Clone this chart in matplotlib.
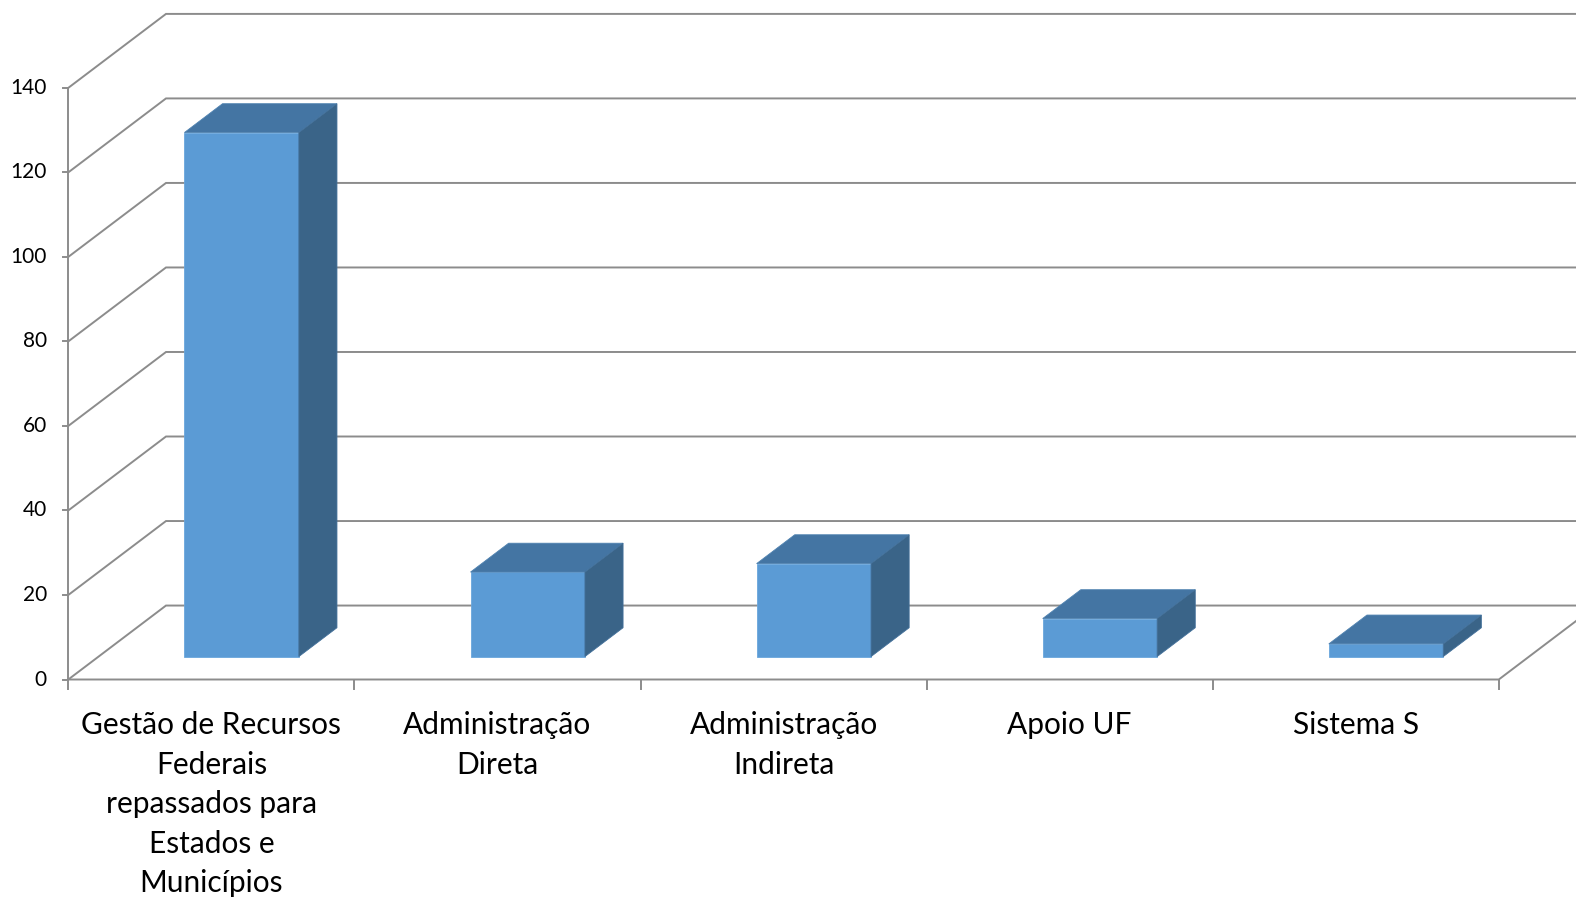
import matplotlib as mpl
mpl.use('Agg')
import matplotlib.pyplot as plt

categories = ['Gestão de Recursos\nFederais\nrepassados para\nEstados e\nMunicípios',
              'Administração\nDireta',
              'Administração\nIndireta',
              'Apoio UF',
              'Sistema S']
values = [124, 20, 22, 9, 3]
y_ticks = [0, 20, 40, 60, 80, 100, 120, 140]

plt.rcParams['font.family'] = ['Lato', 'DejaVu Sans']

# oblique "3D" projection: depth offset in data units
DX = 0.3415   # categories
DY = 17.5     # value units
FRONT = 0.31  # depth fraction of bar front face
DEPTH = 0.39  # depth fraction taken by the bar
BAR_W = 0.4

grid_color = '#8c8c8c'
face_front = '#5b9bd5'
face_top = '#4475a3'
face_side = '#3a6488'

fig = plt.figure(figsize=(15.76, 8.97), dpi=100)
ax = fig.add_axes([0, 0, 1, 1])
ax.set_xlim(-68.3 / 286.1, (1576 - 68.3) / 286.1)
ax.set_ylim((679.5 - 897) / 4.226, 679.5 / 4.226)
ax.axis('off')

n = len(categories)
ymax = y_ticks[-1]

# walls / gridlines
for v in y_ticks:
    ax.plot([0, DX, n + DX + 1], [v, v + DY, v + DY], color=grid_color, lw=1.4,
            solid_joinstyle='miter', zorder=1)
    ax.plot([-0.02, 0], [v, v], color=grid_color, lw=1.4, zorder=1)
    ax.text(-0.075, v, str(v), ha='right', va='center', fontsize=15, color='black')
ax.plot([0, 0], [0, ymax], color=grid_color, lw=1.4, zorder=1)
ax.plot([0, n, n + DX], [0, 0, DY], color=grid_color, lw=1.4, zorder=1)
for i in range(n + 1):
    ax.plot([i, i], [0, -2.2], color=grid_color, lw=1.4, zorder=1)

# bars
for i, v in enumerate(values):
    xl = i + 0.5 - BAR_W / 2 + FRONT * DX
    xr = xl + BAR_W
    y0 = FRONT * DY
    y1 = y0 + v
    dx, dy = DEPTH * DX, DEPTH * DY
    ax.bar(xl, v, width=BAR_W, bottom=y0, align='edge', color=face_front,
           edgecolor='#6aa6dc', linewidth=0.6, zorder=3)
    ax.fill([xl, xr, xr + dx, xl + dx], [y1, y1, y1 + dy, y1 + dy],
            color=face_top, ec='#4f82b0', lw=0.6, zorder=3)
    ax.fill([xr, xr + dx, xr + dx, xr], [y0, y0 + dy, y1 + dy, y1],
            color=face_side, ec='#43709a', lw=0.6, zorder=3)

# category labels
for i, c in enumerate(categories):
    ax.text(i + 0.5, -7.5, c, ha='center', va='top', fontsize=21.5,
            linespacing=1.5, color='black')

fig.savefig('out.png', dpi=100)
